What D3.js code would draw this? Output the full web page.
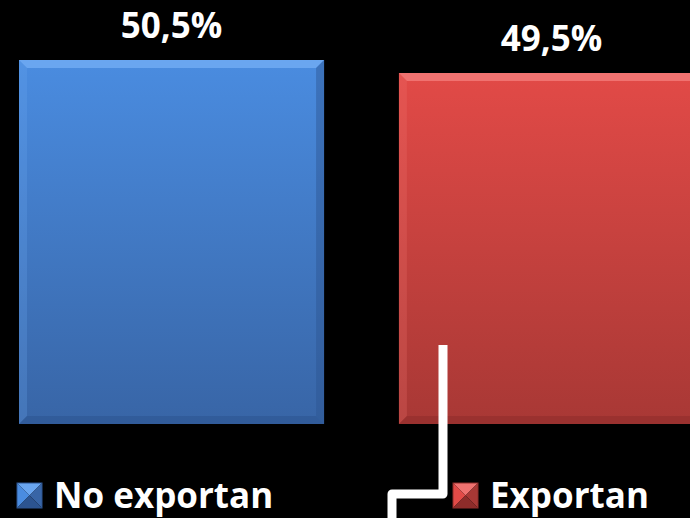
<!DOCTYPE html>
<html>
<head>
<meta charset="utf-8">
<script src="https://cdn.jsdelivr.net/npm/d3@7"></script>
<style>
  html, body { margin: 0; padding: 0; background: #000; }
  svg { display: block; }
  text { font-family: "Open Sans", Lato, sans-serif; font-weight: 700; fill: #fff; }
</style>
</head>
<body>
<svg id="chart" width="690" height="518"></svg>
<script>
// Share of firms by export status
const categories = ["No exportan", "Exportan"];
const values = [50.5, 49.5];
const valueLabels = ["50,5%", "49,5%"];
const colors = [
  { top: "#4a8ce0", bottom: "#3865a6", light: "#6aa6f0", dark: "#2c5490" },
  { top: "#e24a47", bottom: "#a83835", light: "#f07270", dark: "#8e2c2a" }
];

const W = 690, H = 518;
const svg = d3.select("#chart");
const defs = svg.append("defs");

const x = d3.scaleBand()
  .domain(categories)
  .range([19, 704])
  .paddingInner(0.197)
  .paddingOuter(0);

const y = d3.scaleLinear()
  .domain([22.5, 50.5])
  .range([424, 60]);

colors.forEach((c, i) => {
  const g = defs.append("linearGradient")
    .attr("id", "grad" + i)
    .attr("x1", 0).attr("y1", 0).attr("x2", 0).attr("y2", 1);
  g.append("stop").attr("offset", "0%").attr("stop-color", c.top);
  g.append("stop").attr("offset", "100%").attr("stop-color", c.bottom);
});

const bev = 8;
const bars = svg.append("g").selectAll("g.bar")
  .data(categories.map((k, i) => ({ k, v: values[i], label: valueLabels[i], i })))
  .join("g").attr("class", "bar");

bars.each(function (d) {
  const g = d3.select(this);
  const x0 = x(d.k), x1 = x0 + x.bandwidth();
  const y0 = y(d.v), y1 = y(y.domain()[0]);
  const c = colors[d.i];
  g.append("rect")
    .attr("x", x0).attr("y", y0)
    .attr("width", x1 - x0).attr("height", y1 - y0)
    .attr("fill", `url(#grad${d.i})`);
  const poly = (pts, fill, op) => g.append("polygon")
    .attr("points", pts.map(p => p.join(",")).join(" "))
    .attr("fill", fill).attr("opacity", op);
  // bevelled edges
  poly([[x0, y0], [x1, y0], [x1 - bev, y0 + bev], [x0 + bev, y0 + bev]], c.light, 1);
  poly([[x0, y0], [x0 + bev, y0 + bev], [x0 + bev, y1 - bev], [x0, y1]], c.light, 0.25);
  poly([[x1, y0], [x1, y1], [x1 - bev, y1 - bev], [x1 - bev, y0 + bev]], c.dark, 0.45);
  poly([[x0, y1], [x0 + bev, y1 - bev], [x1 - bev, y1 - bev], [x1, y1]], c.dark, 0.55);
  g.append("text")
    .attr("x", (x0 + x1) / 2)
    .attr("y", y0 - 22)
    .attr("text-anchor", "middle")
    .attr("font-size", 35)
    .text(d.label);
});

// connector line
const line = d3.line().curve(d3.curveLinear);
svg.append("path")
  .attr("d", line([[443, 345], [443, 494], [392, 494], [392, 530]]))
  .attr("fill", "none")
  .attr("stroke", "#fff")
  .attr("stroke-width", 9)
  .attr("stroke-linejoin", "round");

// legend
const legendX = [17, 453];
const legend = svg.append("g").selectAll("g")
  .data(categories)
  .join("g")
  .attr("transform", (d, i) => `translate(${legendX[i]},483)`);

legend.each(function (d, i) {
  const g = d3.select(this);
  const s = 25, c = colors[i];
  const tri = (pts, fill) => g.append("polygon")
    .attr("points", pts.map(p => p.join(",")).join(" ")).attr("fill", fill);
  tri([[0, 0], [s, 0], [s / 2, s / 2]], c.light);
  tri([[0, 0], [s / 2, s / 2], [0, s]], c.top);
  tri([[s, 0], [s, s], [s / 2, s / 2]], c.bottom);
  tri([[0, s], [s / 2, s / 2], [s, s]], c.dark);
  g.append("rect").attr("width", s).attr("height", s)
    .attr("fill", "none").attr("stroke", c.dark).attr("stroke-width", 1);
  g.append("text")
    .attr("x", 37)
    .attr("y", 25)
    .attr("font-size", 35)
    .text(d);
});
</script>
</body>
</html>
